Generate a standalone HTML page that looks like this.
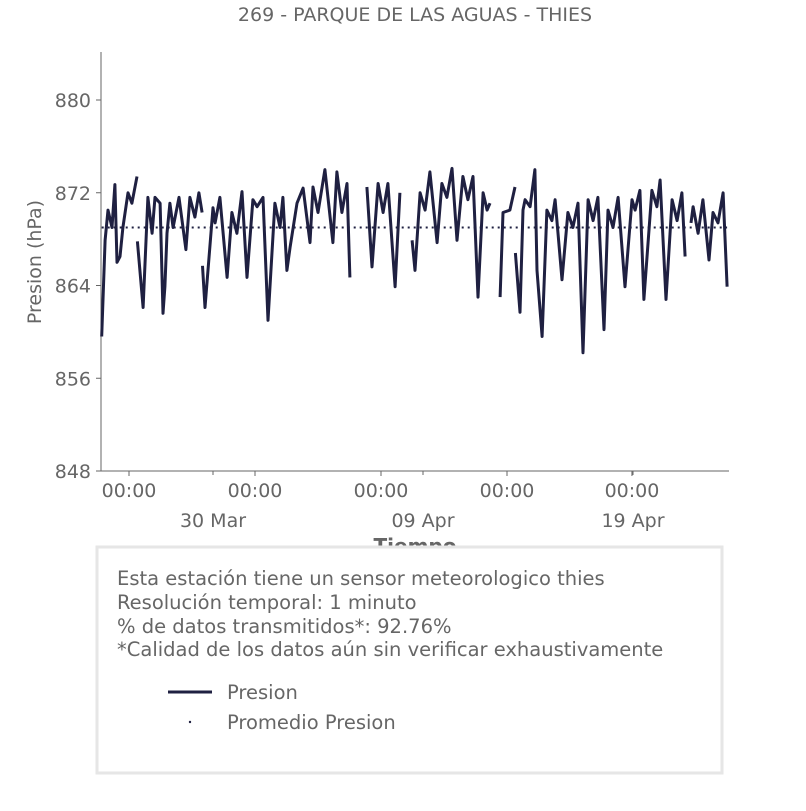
<!DOCTYPE html>
<html><head><meta charset="utf-8"><style>
body{margin:0;background:#fff;width:806px;height:806px;overflow:hidden;font-family:"Liberation Sans","DejaVu Sans",sans-serif}
svg text{font-family:"DejaVu Sans","Liberation Sans",sans-serif;fill:#666}
</style></head><body>
<svg width="806" height="806">
<text x="415" y="21" font-size="19" text-anchor="middle">269 - PARQUE DE LAS AGUAS - THIES</text>
<g id="yaxis"></g>
<g id="xaxis"></g>
<line x1="101" y1="52" x2="101" y2="471" stroke="#666"/>
<line x1="101" y1="471" x2="729" y2="471" stroke="#666"/>
<text transform="translate(41,262) rotate(-90)" font-size="19" text-anchor="middle">Presion (hPa)</text>
<g id="plot"></g>
<text x="415" y="553" font-size="20" font-weight="bold" text-anchor="middle">Tiempo</text>
<rect x="97" y="547" width="625" height="226" fill="#fff" stroke="#e6e6e6" stroke-width="3"/>
<text x="117" y="585" font-size="19.5">Esta estación tiene un sensor meteorologico thies</text>
<text x="117" y="609" font-size="19.5">Resolución temporal: 1 minuto</text>
<text x="117" y="633" font-size="19.5">% de datos transmitidos*: 92.76%</text>
<text x="117" y="656" font-size="19.5">*Calidad de los datos aún sin verificar exhaustivamente</text>
<line x1="168" y1="692" x2="212" y2="692" stroke="#1f2041" stroke-width="3"/>
<text x="227" y="699" font-size="19.5">Presion</text>
<circle cx="190" cy="722" r="1.2" fill="#1f2041"/>
<text x="227" y="729" font-size="19.5">Promedio Presion</text>
</svg>
<script>
const yTicks=[848,856,864,872,880];
const xMajorTicks=[-4,2,8,14,19.95];
const xDateTicks=[0,10,20];
const xDateLabels=["30 Mar","09 Apr","19 Apr"];
const meanPressure=869.0;
const days=[-5.30,-5.14,-5.0,-4.81,-4.67,-4.57,-4.43,-4.29,-4.05,-3.86,-3.62,-3.61,-3.6,-3.33,-3.10,-2.90,-2.76,-2.52,-2.38,-2.29,-2.19,-2.05,-1.90,-1.62,-1.29,-1.10,-0.86,-0.67,-0.52,-0.51,-0.50,-0.38,0,0.10,0.33,0.67,0.90,1.14,1.38,1.62,1.90,2.10,2.38,2.62,2.95,3.19,3.33,3.52,3.67,4.0,4.29,4.62,4.76,5.0,5.33,5.71,5.90,6.14,6.38,6.52,7.0,7.33,7.57,7.86,8.10,8.33,8.67,8.90,9.2,9.48,9.62,9.86,10.10,10.33,10.67,10.90,11.14,11.38,11.62,11.90,12.14,12.38,12.62,12.86,13.05,13.19,13.4,13.67,13.81,14.14,14.38,14.39,14.40,14.62,14.76,14.86,15.10,15.33,15.43,15.67,15.90,16.14,16.29,16.62,16.90,17.14,17.38,17.62,17.86,18.10,18.33,18.62,18.81,19.05,19.29,19.62,19.95,20.10,20.33,20.52,20.90,21.14,21.29,21.57,21.86,22.10,22.33,22.48,22.6,22.76,22.86,23.10,23.33,23.62,23.81,24.05,24.29,24.48];
const pressure=[859.6,867.9,870.5,869,872.7,866,866.5,869,872,871.1,873.4,null,867.8,862.1,871.6,868.5,871.6,871.1,861.6,863.9,868.5,871.1,869,871.6,867.1,871.6,869.9,872,870.3,null,865.7,862.1,870.7,869.4,871.6,864.7,870.3,868.5,872.1,864.7,871.4,870.8,871.6,861,871.1,869,871.6,865.3,867.3,871.1,872.4,867.7,872.5,870.3,874.0,867.7,873.8,870.3,872.8,864.7,null,872.5,865.6,872.8,870.3,872.8,863.9,872,null,867.9,865.3,872,870.5,873.8,867.7,872.8,871.6,874.1,867.9,873.4,871.4,873.4,863,872,870.5,871.1,null,863,870.3,870.5,872.5,null,866.8,861.7,870.5,871.4,870.8,874,865.3,859.6,870.5,869.6,871.4,864.5,870.3,869,871.1,858.2,871.4,869.6,871.6,860.2,870.5,869,871.6,863.9,871.4,870.5,872.2,862.8,872.2,870.8,873.1,862.8,871.4,869.6,872,866.5,null,869.4,870.8,868.5,871.4,866.2,870.3,869.4,872,863.9];
const NS="http://www.w3.org/2000/svg";
const xS=d=>213+21*d;
const yS=v=>100+(880-v)*(371/32);
function mk(tag,at,parent){const e=document.createElementNS(NS,tag);for(const k in at)e.setAttribute(k,at[k]);parent.appendChild(e);return e;}
const ya=document.getElementById('yaxis'),xa=document.getElementById('xaxis'),pl=document.getElementById('plot');
yTicks.forEach(v=>{
 const l=mk('line',{x1:96,x2:101,y1:yS(v),y2:yS(v),stroke:'#666'},ya);
 
 
 const t=mk('text',{x:91,y:yS(v)+7,'font-size':19,'text-anchor':'end'},ya);
 t.textContent=v;
 
 
});
xMajorTicks.forEach(d=>{
 const l=mk('line',{x1:xS(d),x2:xS(d),y1:471,y2:476,stroke:'#666'},xa);
 
 
 const t=mk('text',{x:xS(d),y:497,'font-size':19,'text-anchor':'middle'},xa);
 t.textContent='00:00';
 
 
});
xDateTicks.forEach((d,i)=>{
 const l=mk('line',{x1:xS(d),x2:xS(d),y1:471,y2:475,stroke:'#666'},xa);
 
 
 const t=mk('text',{x:xS(d),y:527,'font-size':19,'text-anchor':'middle'},xa);
 t.textContent=xDateLabels[i];
 
 
});
const ml=mk('line',{x1:xS(days[0]),x2:xS(days[days.length-1]),y1:yS(meanPressure),y2:yS(meanPressure),stroke:'#1f2041','stroke-width':2,'stroke-dasharray':'2,4'},pl);


let d='',pen=false;
days.forEach((t,i)=>{const v=pressure[i];if(v==null){pen=false;return;}d+=(pen?'L':'M')+xS(t).toFixed(1)+','+yS(v).toFixed(1);pen=true;});
const p=mk('path',{d:d,fill:'none',stroke:'#1f2041','stroke-width':3,'stroke-linejoin':'round'},pl);


</script>
</body></html>
